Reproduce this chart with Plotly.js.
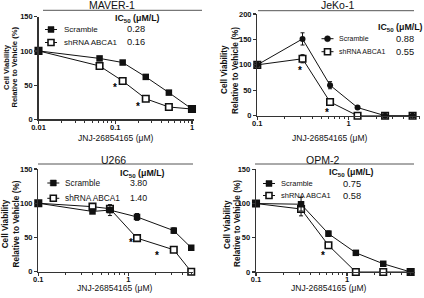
<!DOCTYPE html>
<html><head><meta charset="utf-8">
<script src="https://cdn.plot.ly/plotly-3.0.1.min.js"></script>
<style>html,body{margin:0;padding:0;background:#fff}#chart{width:424px;height:298px}</style>
</head><body><div id="chart"></div>
<script>
// ---- data ----
const maverX = [0.01, 0.0625, 0.125, 0.25, 0.5, 1];
const maverScr = [100, 89, 83, 62, 39, 15];
const maverSh = [100, 78, 56, 30, 18, 15];
const maverScrErr = [0, 3, 2, 2, 2, 1];
const maverShErr = [0, 2, 2, 2, 2, 1];
const maverStarX = [0.1, 0.2];
const maverStarY = [50, 22];
const maverIC50 = ['0.28', '0.16'];

const jekoX = [0.1, 0.3125, 0.625, 1.25, 2.5, 5];
const jekoScr = [100, 151, 60, 16, 0, 0];
const jekoSh = [100, 112, 27, 0, 0, 0];
const jekoScrErr = [0, 12, 7, 1, 0, 0];
const jekoShErr = [0, 8, 2, 0, 0, 0];
const jekoStarX = [0.29, 0.58, 1.12];
const jekoStarY = [93, 11, -13];
const jekoIC50 = ['0.88', '0.55'];

const u266X = [0.1, 0.4, 0.625, 1.25, 3.2, 5];
const u266Scr = [100, 88, 90, 80, 60, 35];
const u266Sh = [100, 95, 92, 49, 32, 0];
const u266ScrErr = [0, 3, 8, 5, 4, 2];
const u266ShErr = [0, 2, 3, 2, 2, 0];
const u266StarX = [1.07, 2.1, 4.8];
const u266StarY = [47, 27, -8];
const u266IC50 = ['3.80', '1.40'];

const opmX = [0.1, 0.3125, 0.625, 1.25, 2.5, 5];
const opmScr = [100, 99, 56, 28, 12, 0];
const opmSh = [100, 92, 39, 0, 0, 0];
const opmScrErr = [0, 10, 4, 2, 2, 0];
const opmShErr = [0, 10, 4, 0, 0, 0];
const opmStarX = [0.55, 1.17, 2.47];
const opmStarY = [28, -9, -9];
const opmIC50 = ['0.75', '0.58'];

const panelTitles = ['MAVER-1', 'JeKo-1', 'U266', 'OPM-2'];
const seriesNames = ['Scramble', 'shRNA ABCA1'];
const xTitle = 'JNJ-26854165 (\u03bcM)';
const yTitleLines = ['Cell Viability', 'Relative to Vehicle (%)'];
const icHeader = 'IC<sub>50</sub> (\u03bcM/L)';

// ---- layout helpers ----
const W = 424, H = 298;
const fx = p => p / W, fy = p => 1 - p / H;
const FONT = 'Liberation Sans, Arial, sans-serif';
const INK = '#111111', AX = '#333333';

function minorVals(lo, hi) { const v = []; for (let d = lo; d < hi; d++) for (let k = 2; k <= 9; k++) v.push(k * Math.pow(10, d)); return v; }

function xAxis(dom, range, ticks, anchor) {
  return {type: 'log', domain: [fx(dom[0]), fx(dom[1])], range: range, anchor: anchor,
    showline: true, linecolor: AX, linewidth: 1.3, ticks: 'outside', ticklen: 3, tickwidth: 1.2, tickcolor: AX,
    tickvals: ticks, ticktext: ticks.map(String), showgrid: false, zeroline: false, ticklabelstandoff: -3,
    tickfont: {family: FONT, size: 7.5, color: INK, weight: 'bold'},
    minor: {ticks: 'outside', ticklen: 2, tickwidth: 1, tickcolor: AX, tickvals: minorVals(Math.round(range[0]), 1), showgrid: false}};
}
function yAxis(dom, ymax, anchor) {
  const tv = []; for (let v = 0; v <= ymax; v += 50) tv.push(v);
  return {domain: [fy(dom[1]), fy(dom[0])], range: [0, ymax], anchor: anchor,
    showline: true, linecolor: AX, linewidth: 1.3, ticks: 'outside', ticklen: 3, tickwidth: 1.2, tickcolor: AX,
    tickvals: tv, showgrid: false, zeroline: false,
    tickfont: {family: FONT, size: 7.5, color: INK, weight: 'bold'}};
}

const panels = [
  {x: maverX, scr: maverScr, sh: maverSh, se: maverScrErr, he: maverShErr, sx: maverStarX, sy: maverStarY, ic: maverIC50,
   xa: 'x', ya: 'y', circle: false},
  {x: jekoX, scr: jekoScr, sh: jekoSh, se: jekoScrErr, he: jekoShErr, sx: jekoStarX, sy: jekoStarY, ic: jekoIC50,
   xa: 'x2', ya: 'y2', circle: true},
  {x: u266X, scr: u266Scr, sh: u266Sh, se: u266ScrErr, he: u266ShErr, sx: u266StarX, sy: u266StarY, ic: u266IC50,
   xa: 'x3', ya: 'y3', circle: false},
  {x: opmX, scr: opmScr, sh: opmSh, se: opmScrErr, he: opmShErr, sx: opmStarX, sy: opmStarY, ic: opmIC50,
   xa: 'x4', ya: 'y4', circle: false}
];

// per-panel placement (pixels)
const place = [
  {title: [112, 4.5], rule: [43, 202, 10.3], key: [51, 61.5, 29.5, 42.5], keyFont: 8, icH: [137.5, 18.5], icV: 136, icFont: 9.3,
   xt: [115, 138], yt: [6, 13.6, 67], ytFont: 7.6},
  {title: [337, 4.5], rule: [258, 414, 10.7], key: [327.5, 337, 38.7, 51.7], keyFont: 7, icH: [400, 27.5], icV: 405, icFont: 9.3,
   xt: [329, 138], yt: [224, 235, 70], ytFont: 8.2},
  {title: [113, 159.5], rule: [38, 193, 164], key: [53.3, 63, 183, 198.3], keyFont: 8.3, icH: [142.5, 173.5], icV: 138, icFont: 8.8,
   xt: [114, 288], yt: [5.3, 15.5, 224], ytFont: 8.2},
  {title: [322, 159.5], rule: [255, 414, 164], key: [269, 279, 183.5, 195.5], keyFont: 7.5, icH: [351, 172.5], icV: 352, icFont: 9.3,
   xt: [328.5, 288], yt: [227, 237, 224], ytFont: 8.2}
];

const data = [];
const annotations = [];
const shapes = [];

panels.forEach((p, i) => {
  const scrMarker = p.circle ? {symbol: 'circle', size: 6, color: INK} : {symbol: 'square', size: 6.5, color: INK};
  data.push({x: p.x, y: p.sh, type: 'scatter', mode: 'lines+markers', name: seriesNames[1], xaxis: p.xa, yaxis: p.ya,
    line: {color: INK, width: 1}, cliponaxis: false, showlegend: false,
    marker: {symbol: 'square', size: 6.5, color: '#fff', line: {color: INK, width: 1.6}},
    error_y: {type: 'data', array: p.he, visible: true, color: INK, thickness: 1, width: 2}});
  data.push({x: p.x, y: p.scr, type: 'scatter', mode: 'lines+markers', name: seriesNames[0], xaxis: p.xa, yaxis: p.ya,
    line: {color: INK, width: 1}, cliponaxis: false, showlegend: false, marker: scrMarker,
    error_y: {type: 'data', array: p.se, visible: true, color: INK, thickness: 1, width: 2}});

  // asterisks
  p.sx.forEach((sx, k) => {
    annotations.push({xref: p.xa, yref: p.ya, x: Math.log10(sx), y: p.sy[k], text: '*', showarrow: false,
      yshift: -2.5, font: {family: FONT, size: 10, color: '#000000', weight: 'bold'}});
  });

  const L = place[i];
  // title + rule
  annotations.push({xref: 'paper', yref: 'paper', x: fx(L.title[0]), y: fy(L.title[1]), text: panelTitles[i], showarrow: false,
    xanchor: 'center', yanchor: 'middle', font: {family: FONT, size: 10.5, color: INK}});
  shapes.push({type: 'line', xref: 'paper', yref: 'paper', x0: fx(L.rule[0]), x1: fx(L.rule[1]), y0: fy(L.rule[2]), y1: fy(L.rule[2]),
    line: {color: '#555', width: 1}});
  // legend keys
  const mx = L.key[0], tx = L.key[1];
  [L.key[2], L.key[3]].forEach((ky, k) => {
    shapes.push({type: 'line', xref: 'paper', yref: 'paper', x0: fx(mx - 6), x1: fx(mx + 6), y0: fy(ky), y1: fy(ky), line: {color: INK, width: 1}});
    const hw = 3;
    if (k === 0) {
      shapes.push({type: (p.circle ? 'circle' : 'rect'), xref: 'paper', yref: 'paper', x0: fx(mx - hw), x1: fx(mx + hw), y0: fy(ky + hw), y1: fy(ky - hw),
        fillcolor: INK, line: {color: INK, width: 0.5}});
    } else {
      shapes.push({type: 'rect', xref: 'paper', yref: 'paper', x0: fx(mx - hw), x1: fx(mx + hw), y0: fy(ky + hw), y1: fy(ky - hw),
        fillcolor: '#fff', line: {color: INK, width: 1.6}});
    }
    annotations.push({xref: 'paper', yref: 'paper', x: fx(tx), y: fy(ky), text: seriesNames[k], showarrow: false,
      xanchor: 'left', yanchor: 'middle', font: {family: FONT, size: L.keyFont, color: INK}});
    annotations.push({xref: 'paper', yref: 'paper', x: fx(L.icV), y: fy(ky), text: p.ic[k], showarrow: false,
      xanchor: 'center', yanchor: 'middle', font: {family: FONT, size: L.icFont, color: INK}});
  });
  annotations.push({xref: 'paper', yref: 'paper', x: fx(L.icH[0]), y: fy(L.icH[1]), text: icHeader, showarrow: false,
    xanchor: 'center', yanchor: 'middle', font: {family: FONT, size: 8.8, color: INK, weight: 'bold'}});
  // axis titles
  annotations.push({xref: 'paper', yref: 'paper', x: fx(L.xt[0]), y: fy(L.xt[1]), text: xTitle, showarrow: false,
    xanchor: 'center', yanchor: 'middle', font: {family: FONT, size: 8.5, color: INK}});
  yTitleLines.forEach((t, k) => {
    annotations.push({xref: 'paper', yref: 'paper', x: fx(L.yt[k]), y: fy(L.yt[2]), text: t, showarrow: false, textangle: -90,
      xanchor: 'center', yanchor: 'middle', font: {family: FONT, size: L.ytFont, color: INK, weight: 'bold'}});
  });
});

const layout = {
  width: W, height: H, margin: {l: 0, r: 0, t: 0, b: 0}, paper_bgcolor: '#fff', plot_bgcolor: 'rgba(0,0,0,0)',
  showlegend: false,
  xaxis: xAxis([38.5, 193.5], [-2, 0.02], [0.01, 0.1, 1], 'y'),
  yaxis: yAxis([16.7, 119.3], 150, 'x'),
  xaxis2: xAxis([257.3, 420], [-1, 0.78], [0.1, 1], 'y2'),
  yaxis2: yAxis([14, 115.7], 200, 'x2'),
  xaxis3: xAxis([38.3, 193.3], [-1, 0.722], [0.1, 1], 'y3'),
  yaxis3: yAxis([169, 271.7], 150, 'x3'),
  xaxis4: xAxis([256, 415.3], [-1, 0.75], [0.1, 1], 'y4'),
  yaxis4: yAxis([169.3, 272], 150, 'x4'),
  annotations: annotations, shapes: shapes
};

Plotly.newPlot('chart', data, layout, {displayModeBar: false, staticPlot: true});
</script></body></html>
